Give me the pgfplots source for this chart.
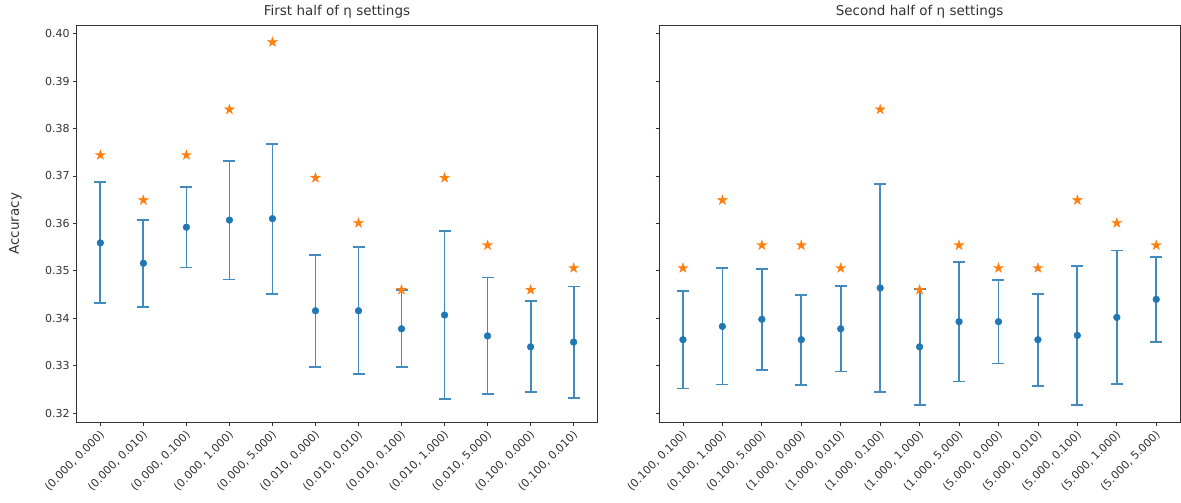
\documentclass[border=0pt]{standalone}
\usepackage{pgfplots}
\usepackage{pgfplotstable}
\usepackage{fontspec}
\setmainfont{DejaVu Sans}
\pgfplotsset{compat=1.18}
\definecolor{cblue}{HTML}{1F77B4}
\definecolor{corange}{HTML}{FF7F0E}
\definecolor{axgray}{HTML}{333333}

\pgfdeclareplotmark{fstar}{%
  \pgfpathmoveto{\pgfpointpolar{90}{\pgfplotmarksize}}%
  \pgfpathlineto{\pgfpointpolar{126}{0.382\pgfplotmarksize}}%
  \pgfpathlineto{\pgfpointpolar{162}{\pgfplotmarksize}}%
  \pgfpathlineto{\pgfpointpolar{198}{0.382\pgfplotmarksize}}%
  \pgfpathlineto{\pgfpointpolar{234}{\pgfplotmarksize}}%
  \pgfpathlineto{\pgfpointpolar{270}{0.382\pgfplotmarksize}}%
  \pgfpathlineto{\pgfpointpolar{306}{\pgfplotmarksize}}%
  \pgfpathlineto{\pgfpointpolar{342}{0.382\pgfplotmarksize}}%
  \pgfpathlineto{\pgfpointpolar{18}{\pgfplotmarksize}}%
  \pgfpathlineto{\pgfpointpolar{54}{0.382\pgfplotmarksize}}%
  \pgfpathclose
  \pgfusepathqfillstroke}

\pgfplotstableread{
x m e s
0 0.3559 0.01275 0.3744
1 0.3516 0.0092 0.3649
2 0.3592 0.0085 0.3744
3 0.3607 0.0125 0.3840
4 0.3610 0.0158 0.3982
5 0.3416 0.0118 0.3696
6 0.3416 0.0134 0.3601
7 0.3378 0.0081 0.3460
8 0.3407 0.0177 0.3696
9 0.3363 0.0123 0.3554
10 0.3340 0.0096 0.3460
11 0.3350 0.0117 0.3506
}\lefttab

\pgfplotstableread{
x m e s
0 0.3355 0.0103 0.3506
1 0.3383 0.01225 0.3649
2 0.3398 0.0106 0.3554
3 0.3355 0.0095 0.3554
4 0.3378 0.0090 0.3506
5 0.3464 0.0219 0.3840
6 0.3340 0.0122 0.3460
7 0.3393 0.0126 0.3554
8 0.3393 0.0088 0.3506
9 0.3355 0.0097 0.3506
10 0.3364 0.0146 0.3649
11 0.3402 0.0141 0.3601
12 0.3440 0.0090 0.3554
}\righttab

\pgfplotsset{
  myax/.style={
    scale only axis,
    width=520.6pt, height=397.3pt,
    ymin=0.3181, ymax=0.4018,
    ytick={0.32,0.33,0.34,0.35,0.36,0.37,0.38,0.39,0.40},
    axis line style={axgray, line width=0.8pt},
    tick style={axgray, line width=0.8pt},
    tick align=outside,
    major tick length=3.6pt,
    xtick pos=lower, ytick pos=left,
    xtick=data,
    tick label style={font=\fontsize{11}{13}\selectfont, text=axgray},
    xticklabel style={rotate=45, anchor=north east, inner sep=1.5pt, xshift=-2pt},
    yticklabel style={/pgf/number format/.cd, fixed, fixed zerofill, precision=2, assume math mode=true},
    title style={at={(0.5,1)}, anchor=base, yshift=3pt, font=\fontsize{13.5}{15}\selectfont, text=axgray},
  },
  errst/.style={only marks, mark=*, mark size=3.4pt, color=cblue,
    error bars/.cd, y dir=both, y explicit,
    error bar style={line width=1.8pt, cblue!85},
    error mark options={cblue!85, mark size=6pt, line width=1.8pt, rotate=90}},
  starst/.style={only marks, mark=fstar, mark size=5.4pt, color=corange, mark options={fill=corange, draw=corange, line width=0.2pt}},
}

\begin{document}
\begin{tikzpicture}
\useasboundingbox (0,0) rectangle (1181pt,503pt);
\begin{axis}[myax, at={(76.7pt,80.7pt)}, anchor=south west,
  xmin=-0.55, xmax=11.55,
  title={First half of η settings},
  ylabel={Accuracy},
  ylabel style={at={(axis description cs:-0.118,0.5)}, anchor=center, font=\fontsize{13.5}{15}\selectfont, text=axgray},
  xticklabels={{(0.000, 0.000)},{(0.000, 0.010)},{(0.000, 0.100)},{(0.000, 1.000)},{(0.000, 5.000)},{(0.010, 0.000)},{(0.010, 0.010)},{(0.010, 0.100)},{(0.010, 1.000)},{(0.010, 5.000)},{(0.100, 0.000)},{(0.100, 0.010)}},
]
\addplot[errst] table[x=x, y=m, y error=e] {\lefttab};
\addplot[starst] table[x=x, y=s] {\lefttab};
\end{axis}
\begin{axis}[myax, at={(659.3pt,80.7pt)}, anchor=south west,
  xmin=-0.6, xmax=12.6,
  title={Second half of η settings},
  yticklabels={},
  xticklabels={{(0.100, 0.100)},{(0.100, 1.000)},{(0.100, 5.000)},{(1.000, 0.000)},{(1.000, 0.010)},{(1.000, 0.100)},{(1.000, 1.000)},{(1.000, 5.000)},{(5.000, 0.000)},{(5.000, 0.010)},{(5.000, 0.100)},{(5.000, 1.000)},{(5.000, 5.000)}},
]
\addplot[errst] table[x=x, y=m, y error=e] {\righttab};
\addplot[starst] table[x=x, y=s] {\righttab};
\end{axis}
\end{tikzpicture}
\end{document}
